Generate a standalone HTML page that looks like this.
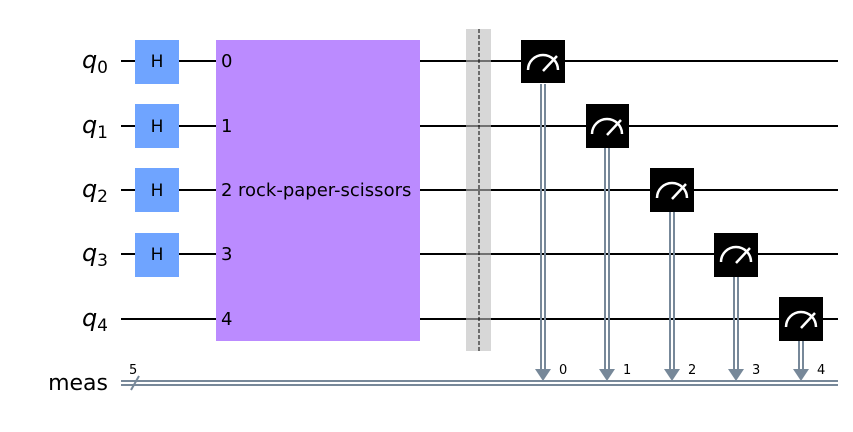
<!DOCTYPE html>
<html><head><style>body{margin:0;background:#fff}svg{display:block}</style></head><body>
<svg width="853" height="432" viewBox="0 0 853 432" xmlns="http://www.w3.org/2000/svg" font-family="DejaVu Sans, Liberation Sans, sans-serif">
<g stroke="#000" stroke-width="2">
<line x1="121" y1="61" x2="838" y2="61"/>
<line x1="121" y1="126" x2="838" y2="126"/>
<line x1="121" y1="190" x2="838" y2="190"/>
<line x1="121" y1="254" x2="838" y2="254"/>
<line x1="121" y1="319" x2="838" y2="319"/>
</g>
<g stroke="#778899" stroke-width="2">
<line x1="121" y1="381" x2="838" y2="381"/>
<line x1="121" y1="385" x2="838" y2="385"/>
<line x1="131" y1="390" x2="139" y2="376"/>
</g>
<text x="129" y="374" style="font-size:13px">5</text>
<g style="font-size:24px;font-style:italic" text-anchor="end">
<text x="108" y="68">q<tspan style="font-size:17px;font-style:normal" dy="5">0</tspan></text>
<text x="108" y="133">q<tspan style="font-size:17px;font-style:normal" dy="5">1</tspan></text>
<text x="108" y="197">q<tspan style="font-size:17px;font-style:normal" dy="5">2</tspan></text>
<text x="108" y="261">q<tspan style="font-size:17px;font-style:normal" dy="5">3</tspan></text>
<text x="108" y="326">q<tspan style="font-size:17px;font-style:normal" dy="5">4</tspan></text>
</g>
<text x="108" y="390" style="font-size:22px" text-anchor="end">meas</text>
<g fill="#6fa4ff">
<rect x="135" y="40" width="44" height="44"/>
<rect x="135" y="104" width="44" height="44"/>
<rect x="135" y="168" width="44" height="44"/>
<rect x="135" y="233" width="44" height="44"/>
</g>
<g style="font-size:17px" text-anchor="middle">
<text x="157" y="67">H</text><text x="157" y="132">H</text><text x="157" y="196">H</text><text x="157" y="260">H</text>
</g>
<rect x="216" y="40" width="204" height="301" fill="#bb8bff"/>
<g style="font-size:18px">
<text x="221" y="67">0</text><text x="221" y="132">1</text><text x="221" y="196">2</text><text x="221" y="260">3</text><text x="221" y="325">4</text>
<text x="238" y="196">rock-paper-scissors</text>
</g>
<rect x="466" y="29" width="25" height="322" fill="#bdbdbd" opacity="0.6"/>
<line x1="479" y1="29" x2="479" y2="351" stroke="#000" stroke-width="1" stroke-dasharray="4,2"/>
<g stroke="#778899" stroke-width="2">
<line x1="541" y1="84" x2="541" y2="372"/><line x1="545" y1="84" x2="545" y2="372"/>
<line x1="605" y1="148" x2="605" y2="372"/><line x1="609" y1="148" x2="609" y2="372"/>
<line x1="670" y1="212" x2="670" y2="372"/><line x1="674" y1="212" x2="674" y2="372"/>
<line x1="734" y1="276" x2="734" y2="372"/><line x1="738" y1="276" x2="738" y2="372"/>
<line x1="799" y1="341" x2="799" y2="372"/><line x1="803" y1="341" x2="803" y2="372"/>
</g>
<g fill="#778899">
<polygon points="535,369 551,369 543,381"/>
<polygon points="599,369 615,369 607,381"/>
<polygon points="664,369 680,369 672,381"/>
<polygon points="728,369 744,369 736,381"/>
<polygon points="793,369 809,369 801,381"/>
</g>
<g style="font-size:13px">
<text x="559" y="374">0</text><text x="623" y="374">1</text><text x="688" y="374">2</text><text x="752" y="374">3</text><text x="817" y="374">4</text>
</g>
<g>
<rect x="521" y="40" width="44" height="43" fill="#000"/>
<rect x="586" y="104" width="43" height="44" fill="#000"/>
<rect x="650" y="168" width="44" height="44" fill="#000"/>
<rect x="714" y="233" width="44" height="44" fill="#000"/>
<rect x="779" y="297" width="44" height="44" fill="#000"/>
</g>
<g fill="none" stroke="#fff" stroke-width="2.5">
<path d="M528,70 A15,15 0 0 1 558,70 M543,71 L557,56"/>
<path d="M592,134 A15,15 0 0 1 622,134 M607,135 L621,120"/>
<path d="M657,198 A15,15 0 0 1 687,198 M672,199 L686,184"/>
<path d="M721,262 A15,15 0 0 1 751,262 M736,263 L750,248"/>
<path d="M786,327 A15,15 0 0 1 816,327 M801,328 L815,313"/>
</g>
</svg>
</body></html>
